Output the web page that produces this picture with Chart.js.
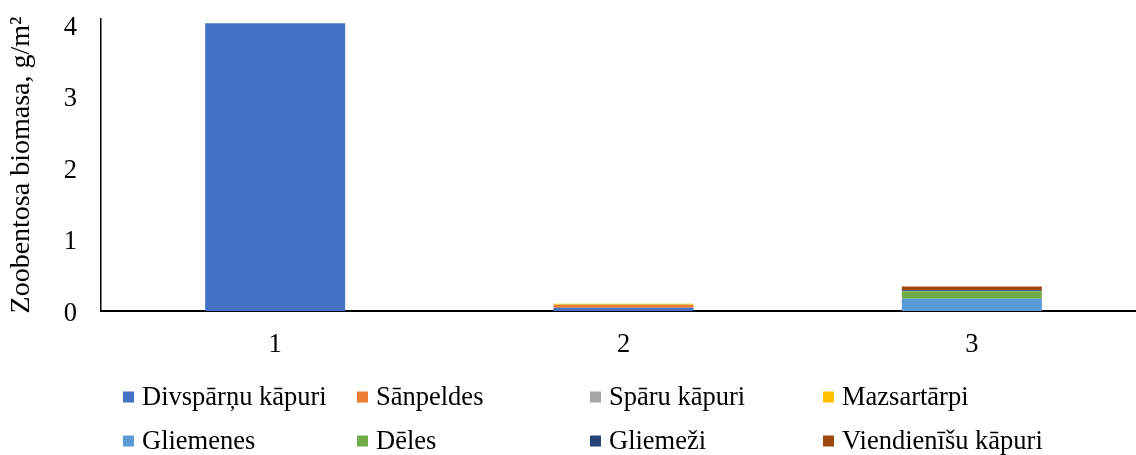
<!DOCTYPE html>
<html>
<head>
<meta charset="utf-8">
<script src="https://cdn.jsdelivr.net/npm/chart.js@4"></script>
<style>
  html, body { margin: 0; padding: 0; background: #fff; overflow: hidden; }
  #wrap { position: relative; width: 1146px; height: 455px; }
</style>
</head>
<body>
<div id="wrap"><canvas id="c"></canvas></div>
<script>
// Stations along the x axis
const categories = ['1', '2', '3'];

// Zoobenthos biomass by group, g/m2, one value per station
const divsparnuKapuri   = [4.02, 0.046, 0];
const sanpeldes         = [0, 0.037, 0];
const sparuKapuri       = [0, 0.004, 0];
const mazsartarpi       = [0, 0.014, 0];
const gliemenes         = [0, 0, 0.17];
const deles             = [0, 0, 0.106];
const gliemezi          = [0, 0, 0.014];
const viendienisuKapuri = [0, 0, 0.052];

const seriesNames = ['Divspārņu kāpuri', 'Sānpeldes', 'Spāru kāpuri', 'Mazsartārpi',
                     'Gliemenes', 'Dēles', 'Gliemeži', 'Viendienīšu kāpuri'];
const seriesValues = [divsparnuKapuri, sanpeldes, sparuKapuri, mazsartarpi,
                      gliemenes, deles, gliemezi, viendienisuKapuri];
const seriesColors = ['#4472C4', '#ED7D31', '#A5A5A5', '#FFC000',
                      '#5B9BD5', '#70AD47', '#264478', '#9E480E'];

const yTickValues = [0, 1, 2, 3, 4];
const yAxisTitle = 'Zoobentosa biomasa, g/m²';

const FONT = '"Liberation Serif", "Times New Roman", serif';

// Legend laid out as a fixed 4 x 2 grid under the plot
const legendGrid = {
  id: 'legendGrid',
  afterDraw(chart) {
    const ctx = chart.ctx;
    const colX = [123, 357, 590, 823];
    const rowY = [397, 441];
    const box = 11;
    ctx.save();
    ctx.font = '26.5px ' + FONT;
    ctx.textBaseline = 'middle';
    ctx.textAlign = 'left';
    chart.data.datasets.forEach((ds, i) => {
      const x = colX[i % 4];
      const y = rowY[Math.floor(i / 4)];
      ctx.fillStyle = ds.backgroundColor;
      ctx.fillRect(x, y - box / 2, box, box);
      ctx.fillStyle = '#000';
      ctx.fillText(ds.label, x + 19, y + 1.5);
    });
    ctx.restore();
  }
};

new Chart(document.getElementById('c'), {
  type: 'bar',
  data: {
    labels: categories,
    datasets: seriesNames.map((name, i) => ({
      label: name,
      data: seriesValues[i],
      backgroundColor: seriesColors[i],
      borderWidth: 0,
      categoryPercentage: 1,
      barPercentage: 0.402
    }))
  },
  options: {
    responsive: true,
    maintainAspectRatio: false,
    animation: false,
    layout: { padding: { top: 19, right: 0, bottom: 99, left: 0 } },
    plugins: {
      legend: { display: false },
      tooltip: { enabled: false }
    },
    scales: {
      x: {
        stacked: true,
        grid: { display: false, drawTicks: false },
        border: { display: true, color: '#000', width: 2 },
        ticks: { color: '#000', font: { family: FONT, size: 26.5 }, padding: 18 },
        afterFit(scale) { scale.height = 45; }
      },
      y: {
        stacked: true,
        min: 0,
        max: 4.08,
        afterBuildTicks(scale) { scale.ticks = yTickValues.map(v => ({ value: v })); },
        grid: { display: false, drawTicks: false },
        border: { display: true, color: '#000', width: 1.5 },
        ticks: { color: '#000', font: { family: FONT, size: 26.5 }, padding: 24, labelOffset: 3, includeBounds: false },
        title: {
          display: true,
          text: yAxisTitle,
          color: '#000',
          font: { family: FONT, size: 28 },
          padding: { top: 5, bottom: 0 }
        },
        afterFit(scale) {
          scale.width = 101;
          // keep the plot area flush with the layout padding
          scale.paddingTop = 0;
          scale.paddingBottom = 0;
        }
      }
    }
  },
  plugins: [legendGrid]
});
</script>
</body>
</html>
